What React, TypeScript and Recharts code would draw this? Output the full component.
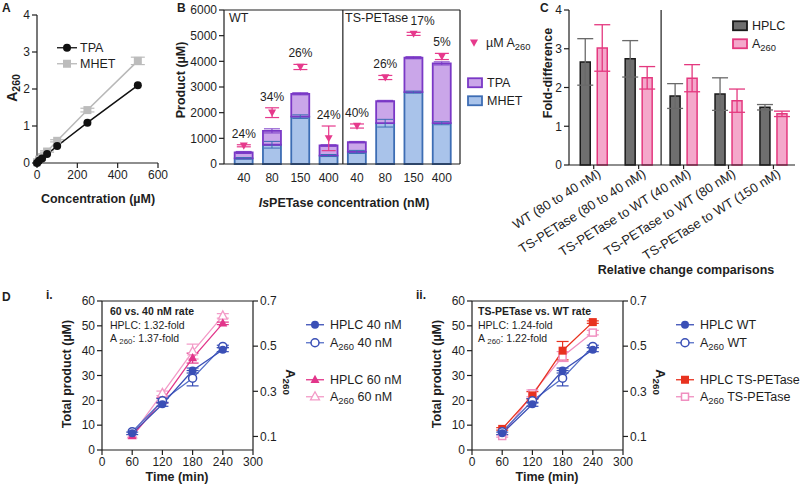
import React from "react";
import {
  ComposedChart,
  Line,
  Bar,
  XAxis,
  YAxis,
  ErrorBar,
  ReferenceLine,
  LabelList,
} from "recharts";

const FONT = "'Liberation Sans', Arial, Helvetica, sans-serif";
const INK = "#1e1e1e";
const PINK = "#e6398c";

// ---- A: standard curves
const concA = [0, 10, 25, 50, 100, 250, 500];
const tpaA = [0, 0.06, 0.12, 0.24, 0.46, 1.09, 2.1];
const mhetA = [0.02, 0.09, 0.16, 0.31, 0.6, 1.43, 2.76];
const mhetAErr = [0, 0, 0, 0.02, 0.03, 0.05, 0.1];

// ---- B: product by enzyme loading (WT x4, then TS-PETase x4)
const enzB = ["40", "80", "150", "400", "40", "80", "150", "400"];
const mhetB = [220, 750, 1845, 330, 470, 1590, 2800, 1590];
const totalB = [450, 1290, 2735, 720, 850, 2450, 4140, 3920];
const mhetBErr = [30, 130, 70, 40, 60, 150, 40, 60];
const totalBErr = [40, 80, 40, 30, 30, 30, 40, 60];
const a260B = [710, 2000, 3780, 1000, 1480, 3370, 5070, 4190];
const a260BErr = [40, 190, 100, 480, 80, 80, 60, 120];
const pctB = ["24%", "34%", "26%", "24%", "40%", "26%", "17%", "5%"];

// ---- C: fold differences
const compC = [
  "WT (80 to 40 nM)",
  "TS-PETase (80 to 40 nM)",
  "TS-PETase to WT (40 nM)",
  "TS-PETase to WT (80 nM)",
  "TS-PETase to WT (150 nM)",
];
const hplcC = [2.66, 2.74, 1.78, 1.83, 1.49];
const hplcCErr = [0.6, 0.47, 0.32, 0.42, 0.07];
const a260C = [3.02, 2.25, 2.24, 1.66, 1.32];
const a260CErr = [0.6, 0.29, 0.35, 0.3, 0.07];

// ---- D: time courses (HPLC on left axis, A260 on right axis)
const timeD = [60, 120, 180, 240];
const hplc40 = [6.7, 18.4, 32, 40.4];
const hplc40Err = [0.5, 0.8, 1, 0.8];
const a260_40 = [0.121, 0.258, 0.358, 0.499];
const a260_40Err = [0, 0.01, 0.034, 0.005];
const hplc60 = [5.6, 20, 37, 51];
const hplc60Err = [0, 1, 2, 0.5];
const a260_60 = [0.108, 0.291, 0.476, 0.634];
const a260_60Err = [0, 0.01, 0.033, 0.01];
const hplcTS = [8.5, 22, 40, 51.5];
const hplcTSErr = [0.5, 1.5, 3.7, 0.5];
const a260TS = [0.102, 0.291, 0.454, 0.56];
const a260TSErr = [0.005, 0.015, 0.022, 0.01];

const rowsA = concA.map((c, i) => ({ c, tpa: tpaA[i], mhet: mhetA[i], mhetErr: mhetAErr[i] }));
const posB = enzB.map((_, i) => i + 1);
const rowsB = enzB.map((enz, i) => ({
  pos: posB[i],
  enz,
  mhet: mhetB[i],
  tpa: totalB[i] - mhetB[i],
  mhetErr: mhetBErr[i],
  totalErr: totalBErr[i],
  a260: a260B[i],
  a260Err: a260BErr[i],
  labelAt: a260B[i] + a260BErr[i],
  pct: pctB[i],
}));
const posC = compC.map((_, i) => i + 1);
const rowsC = compC.map((cmp, i) => ({
  pos: posC[i],
  cmp,
  hplc: hplcC[i],
  hplcErr: hplcCErr[i],
  a260: a260C[i],
  a260Err: a260CErr[i],
}));
const rowsD = timeD.map((t, i) => ({
  t,
  h40: hplc40[i], h40e: hplc40Err[i],
  a40: a260_40[i], a40e: a260_40Err[i],
  h60: hplc60[i], h60e: hplc60Err[i],
  a60: a260_60[i], a60e: a260_60Err[i],
  hts: hplcTS[i], htse: hplcTSErr[i],
  ats: a260TS[i], atse: a260TSErr[i],
}));

const AX = { stroke: INK, strokeWidth: 1.2 };
const TK = { fontSize: 12, fill: INK };

type Kind = "circle" | "ring" | "square" | "box" | "tri" | "triOpen" | "triDown";

function Glyph({ kind, color, cx, cy, s = 4 }: { kind: Kind; color: string; cx: number; cy: number; s?: number }) {
  switch (kind) {
    case "circle":
      return <circle cx={cx} cy={cy} r={s} fill={color} />;
    case "ring":
      return <circle cx={cx} cy={cy} r={s} fill="#fff" stroke={color} strokeWidth={1.5} />;
    case "square":
      return <rect x={cx - s} y={cy - s} width={2 * s} height={2 * s} fill={color} />;
    case "box":
      return <rect x={cx - s + 0.5} y={cy - s + 0.5} width={2 * s - 1} height={2 * s - 1} fill="#fff" stroke={color} strokeWidth={1.5} />;
    case "tri":
      return <path d={`M${cx},${cy - s - 1} L${cx + s + 0.5},${cy + s * 0.8} L${cx - s - 0.5},${cy + s * 0.8} Z`} fill={color} />;
    case "triOpen":
      return <path d={`M${cx},${cy - s - 1} L${cx + s + 0.5},${cy + s * 0.8} L${cx - s - 0.5},${cy + s * 0.8} Z`} fill="#fff" stroke={color} strokeWidth={1.3} />;
    case "triDown":
      return <path d={`M${cx - s},${cy - s * 0.8} L${cx + s},${cy - s * 0.8} L${cx},${cy + s} Z`} fill={color} />;
  }
}

function marker(kind: Kind, color: string, s = 4) {
  return (p: any) => {
    if (p.cx == null || p.cy == null) return <g key={`m${p.index}`} />;
    return (
      <g key={`m${p.index}`}>
        <Glyph kind={kind} color={color} cx={p.cx} cy={p.cy} s={s} />
      </g>
    );
  };
}

function Txt({
  x, y, size = 12, bold, align = "center", rot = 0, children,
}: { x: number; y: number; size?: number; bold?: boolean; align?: "left" | "center"; rot?: number; children: React.ReactNode }) {
  const tx = align === "center" ? "-50%" : "0";
  return (
    <div
      style={{
        position: "absolute", left: x, top: y,
        transform: `translate(${tx},-50%) rotate(${rot}deg)`,
        fontSize: size, fontWeight: bold ? 700 : 400, whiteSpace: "nowrap",
        lineHeight: 1, color: INK,
      }}
    >
      {children}
    </div>
  );
}

const Sub = ({ children }: { children: React.ReactNode }) => (
  <span style={{ fontSize: "0.75em", position: "relative", top: "0.3em" }}>{children}</span>
);

function KeyRow({ x, y, w, gap, glyph, children, size = 12.5 }: { x: number; y: number; w: number; gap: number; glyph: React.ReactNode; children: React.ReactNode; size?: number }) {
  return (
    <div style={{ position: "absolute", left: x, top: y, transform: "translateY(-50%)", display: "flex", alignItems: "center", whiteSpace: "nowrap", fontSize: size, lineHeight: 1, color: INK }}>
      <svg width={w} height={12} style={{ marginRight: gap, overflow: "visible" }}>{glyph}</svg>
      <span>{children}</span>
    </div>
  );
}

const lineKey = (kind: Kind, color: string, line: string, w = 18) => (
  <>
    <line x1={0} x2={w} y1={6} y2={6} stroke={line} strokeWidth={1.3} />
    <Glyph kind={kind} color={color} cx={w / 2} cy={6} />
  </>
);

const boxKey = (fill: string, stroke: string) => (
  <rect x={1} y={1.5} width={14} height={9} fill={fill} stroke={stroke} strokeWidth={1.8} />
);

function SlantTick(p: any) {
  const { x, y, payload } = p;
  const ax = x + 8;
  const ay = y + 5;
  return (
    <text x={ax} y={ay} transform={`rotate(-32 ${ax} ${ay})`} textAnchor="end" fontSize={13} fill={INK}>
      {compC[payload.value - 1]}
    </text>
  );
}

// percent labels: nudge right when they would run into the panel title at the top
function PctLabel(p: any) {
  const { x, y, width, value } = p;
  const cx = x + (width || 0) / 2 + (y < 40 ? 9 : 0);
  return (
    <text x={cx} y={y - 7} textAnchor="middle" fontSize={12} fill={INK}>
      {value}
    </text>
  );
}

type SeriesCfg = { key: string; err: string; axis: "l" | "r"; color: string; line: string; kind: Kind };

function TimeCourse({ series }: { series: SeriesCfg[] }) {
  return (
    <ComposedChart width={400} height={199} data={rowsD} margin={{ top: 16, right: 117, left: 72, bottom: 0 }}>
      <XAxis dataKey="t" type="number" domain={[0, 300]} ticks={[0, 60, 120, 180, 240, 300]} height={34} axisLine={AX} tickLine={AX} tick={TK} tickSize={5} />
      <YAxis yAxisId="l" domain={[0, 60]} ticks={[0, 10, 20, 30, 40, 50, 60]} width={30} axisLine={AX} tickLine={AX} tick={TK} tickSize={5} />
      <YAxis yAxisId="r" orientation="right" domain={[0.04, 0.7]} allowDataOverflow ticks={[0.1, 0.3, 0.5, 0.7]} width={30} axisLine={AX} tickLine={AX} tick={TK} tickSize={5} tickFormatter={(v: number) => v.toFixed(1)} />
      <ReferenceLine yAxisId="l" y={60} stroke={INK} strokeWidth={1.2} />
      {series.map((s) => (
        <Line key={s.key} yAxisId={s.axis} dataKey={s.key} stroke={s.line} strokeWidth={1.3} dot={marker(s.kind, s.color)} activeDot={false} isAnimationActive={false}>
          <ErrorBar dataKey={s.err} width={6} stroke={s.color} strokeWidth={1.2} direction="y" />
        </Line>
      ))}
    </ComposedChart>
  );
}

const BLUE = "#3a4fb6";
const BLUE_L = "#5670c8";
const MAG = "#e2358a";
const MAG_L = "#f39ac7";
const RED = "#e8321f";
const PINK_L = "#f08fc0";

const seriesI: SeriesCfg[] = [
  { key: "a60", err: "a60e", axis: "r", color: MAG_L, line: MAG_L, kind: "triOpen" },
  { key: "h60", err: "h60e", axis: "l", color: MAG, line: MAG, kind: "tri" },
  { key: "a40", err: "a40e", axis: "r", color: BLUE, line: BLUE_L, kind: "ring" },
  { key: "h40", err: "h40e", axis: "l", color: BLUE, line: BLUE, kind: "circle" },
];
const seriesII: SeriesCfg[] = [
  { key: "ats", err: "atse", axis: "r", color: PINK_L, line: PINK_L, kind: "box" },
  { key: "hts", err: "htse", axis: "l", color: RED, line: RED, kind: "square" },
  { key: "a40", err: "a40e", axis: "r", color: BLUE, line: BLUE_L, kind: "ring" },
  { key: "h40", err: "h40e", axis: "l", color: BLUE, line: BLUE, kind: "circle" },
];

const noteStyle: React.CSSProperties = { position: "absolute", top: 305, fontSize: 10.5, lineHeight: "13.5px", color: INK, whiteSpace: "nowrap" };

export default function App() {
  return (
    <div style={{ position: "absolute", left: 0, top: 0, width: 800, height: 484, background: "#fff", fontFamily: FONT, overflow: "hidden", color: INK }}>
      {/* A */}
      <div style={{ position: "absolute", left: 0, top: 0 }}>
        <ComposedChart width={200} height={210} data={rowsA} margin={{ top: 15, right: 42, left: 7, bottom: 0 }}>
          <XAxis dataKey="c" type="number" domain={[0, 600]} ticks={[0, 200, 400, 600]} height={47} axisLine={AX} tickLine={AX} tick={TK} tickSize={5} />
          <YAxis domain={[0, 4]} ticks={[0, 1, 2, 3, 4]} width={30} axisLine={AX} tickLine={AX} tick={TK} tickSize={5} />
          <Line dataKey="mhet" stroke="#b8b8b8" strokeWidth={1.5} dot={marker("square", "#bcbcbc")} activeDot={false} isAnimationActive={false}>
            <ErrorBar dataKey="mhetErr" width={7} stroke="#bcbcbc" strokeWidth={1.2} direction="y" />
          </Line>
          <Line dataKey="tpa" stroke="#111" strokeWidth={1.5} dot={marker("circle", "#111")} activeDot={false} isAnimationActive={false} />
        </ComposedChart>
      </div>
      <KeyRow x={57} y={48} w={20} gap={3} glyph={lineKey("circle", "#111", "#111", 20)}>TPA</KeyRow>
      <KeyRow x={57} y={64} w={20} gap={3} glyph={lineKey("square", "#bcbcbc", "#b8b8b8", 20)}>MHET</KeyRow>
      <Txt x={12} y={88} rot={-90} bold size={14}>A<Sub>260</Sub></Txt>
      <Txt x={98} y={199} bold size={12.5}>Concentration (µM)</Txt>

      {/* B */}
      <div style={{ position: "absolute", left: 185, top: 0 }}>
        <ComposedChart width={340} height={210} data={rowsB} margin={{ top: 10, right: 65, left: 10, bottom: 0 }}>
          <XAxis dataKey="pos" type="number" domain={[0.3, 8.64]} allowDataOverflow ticks={posB} tickFormatter={(v: number) => enzB[v - 1]} height={46} axisLine={AX} tickLine={false} tick={TK} tickSize={5} tickMargin={4} interval={0} />
          <YAxis domain={[0, 6000]} ticks={[0, 1000, 2000, 3000, 4000, 5000, 6000]} width={29} axisLine={AX} tickLine={AX} tick={TK} tickSize={5} />
          <ReferenceLine x={4.5} stroke={INK} strokeWidth={1.2} />
          <ReferenceLine x={8.64} stroke={INK} strokeWidth={1.2} />
          <ReferenceLine y={6000} stroke={INK} strokeWidth={1.2} />
          <Bar dataKey="mhet" stackId="s" barSize={18} fill="#a9c3ea" stroke="#3d6db4" strokeWidth={1.8} isAnimationActive={false}>
            <ErrorBar dataKey="mhetErr" width={8} stroke="#3d6db4" strokeWidth={1} direction="y" />
          </Bar>
          <Bar dataKey="tpa" stackId="s" barSize={18} fill="#caa6e9" stroke="#7a38c6" strokeWidth={1.8} isAnimationActive={false}>
            <ErrorBar dataKey="totalErr" width={8} stroke="#7a38c6" strokeWidth={1} direction="y" />
          </Bar>
          <Line dataKey="a260" stroke="none" dot={marker("triDown", PINK)} activeDot={false} isAnimationActive={false}>
            <ErrorBar dataKey="a260Err" width={7} stroke={PINK} strokeWidth={1.2} direction="y" />
          </Line>
          <Line dataKey="labelAt" stroke="none" dot={false} activeDot={false} isAnimationActive={false}>
            <LabelList dataKey="pct" content={<PctLabel />} />
          </Line>
        </ComposedChart>
      </div>
      <Txt x={229} y={18} align="left" size={12.5}>WT</Txt>
      <Txt x={345} y={18} align="left" size={12.5}>TS-PETase</Txt>
      <KeyRow x={469} y={43} w={10} gap={7} glyph={<Glyph kind="triDown" color={PINK} cx={5} cy={6} />}>µM A<Sub>260</Sub></KeyRow>
      <KeyRow x={467} y={83} w={16} gap={4} glyph={boxKey("#caa6e9", "#7a38c6")}>TPA</KeyRow>
      <KeyRow x={467} y={101} w={16} gap={4} glyph={boxKey("#a9c3ea", "#3d6db4")}>MHET</KeyRow>
      <Txt x={181} y={80} rot={-90} bold size={12.5}>Product (µM)</Txt>
      <Txt x={344} y={203} bold size={12.5}><i>Is</i>PETase concentration (nM)</Txt>

      {/* C */}
      <div style={{ position: "absolute", left: 490, top: 0 }}>
        <ComposedChart width={310} height={290} data={rowsC} margin={{ top: 10, right: 5, left: 30, bottom: 0 }} barGap={7}>
          <XAxis dataKey="pos" type="number" domain={[0.45, 5.48]} allowDataOverflow ticks={posC} height={125} axisLine={AX} tickLine={AX} tickSize={4} tick={<SlantTick />} interval={0} />
          <YAxis domain={[0, 4]} ticks={[0, 1, 2, 3, 4]} width={49} axisLine={AX} tickLine={AX} tick={TK} tickSize={5} />
          <ReferenceLine x={2.5} stroke={INK} strokeWidth={1.2} />
          <Bar dataKey="hplc" barSize={10} fill="#6f6f6f" stroke="#1a1a1a" strokeWidth={1.5} isAnimationActive={false}>
            <ErrorBar dataKey="hplcErr" width={8} stroke="#6a6a6a" strokeWidth={1.3} direction="y" />
          </Bar>
          <Bar dataKey="a260" barSize={10} fill="#f4a8cb" stroke="#e4387f" strokeWidth={1.5} isAnimationActive={false}>
            <ErrorBar dataKey="a260Err" width={8} stroke="#e4387f" strokeWidth={1.3} direction="y" />
          </Bar>
        </ComposedChart>
      </div>
      <KeyRow x={732} y={26} w={16} gap={4} glyph={boxKey("#6f6f6f", "#1a1a1a")}>HPLC</KeyRow>
      <KeyRow x={732} y={44} w={16} gap={4} glyph={boxKey("#f4a8cb", "#e4387f")}>A<Sub>260</Sub></KeyRow>
      <Txt x={548} y={73} rot={-90} bold size={12.5}>Fold-difference</Txt>
      <Txt x={686} y={270} bold size={12.5}>Relative change comparisons</Txt>

      {/* panel letters */}
      <Txt x={2} y={8} align="left" bold size={12}>A</Txt>
      <Txt x={177} y={8} align="left" bold size={12}>B</Txt>
      <Txt x={540} y={8} align="left" bold size={12}>C</Txt>
      <Txt x={2} y={297} align="left" bold size={12}>D</Txt>
      <Txt x={46} y={295} align="left" bold size={12}>i.</Txt>
      <Txt x={416} y={295} align="left" bold size={12}>ii.</Txt>

      {/* D */}
      <div style={{ position: "absolute", left: 0, top: 285 }}>
        <TimeCourse series={seriesI} />
      </div>
      <div style={{ position: "absolute", left: 370, top: 285 }}>
        <TimeCourse series={seriesII} />
      </div>

      <div style={{ ...noteStyle, left: 110 }}>
        <div style={{ fontWeight: 700 }}>60 vs. 40 nM rate</div>
        <div>HPLC: 1.32-fold</div>
        <div>A <Sub>260</Sub>: 1.37-fold</div>
      </div>
      <div style={{ ...noteStyle, left: 478 }}>
        <div style={{ fontWeight: 700 }}>TS-PETase vs. WT rate</div>
        <div>HPLC: 1.24-fold</div>
        <div>A <Sub>260</Sub>: 1.22-fold</div>
      </div>

      <KeyRow x={306} y={325} w={18} gap={6} glyph={lineKey("circle", BLUE, BLUE)}>HPLC 40 nM</KeyRow>
      <KeyRow x={306} y={343} w={18} gap={6} glyph={lineKey("ring", BLUE, BLUE_L)}>A<Sub>260</Sub> 40 nM</KeyRow>
      <KeyRow x={306} y={380} w={18} gap={6} glyph={lineKey("tri", MAG, MAG)}>HPLC 60 nM</KeyRow>
      <KeyRow x={306} y={397} w={18} gap={6} glyph={lineKey("triOpen", MAG_L, MAG_L)}>A<Sub>260</Sub> 60 nM</KeyRow>

      <KeyRow x={676} y={325} w={18} gap={6} glyph={lineKey("circle", BLUE, BLUE)}>HPLC WT</KeyRow>
      <KeyRow x={676} y={343} w={18} gap={6} glyph={lineKey("ring", BLUE, BLUE_L)}>A<Sub>260</Sub> WT</KeyRow>
      <KeyRow x={676} y={380} w={18} gap={6} glyph={lineKey("square", RED, RED)}>HPLC TS-PETase</KeyRow>
      <KeyRow x={676} y={397} w={18} gap={6} glyph={lineKey("box", PINK_L, PINK_L)}>A<Sub>260</Sub> TS-PETase</KeyRow>

      <Txt x={67} y={374} rot={-90} bold size={12.5}>Total product (µM)</Txt>
      <Txt x={290} y={382} rot={90} bold size={13}>A<Sub>260</Sub></Txt>
      <Txt x={177} y={477} bold size={12.5}>Time (min)</Txt>
      <Txt x={437} y={374} rot={-90} bold size={12.5}>Total product (µM)</Txt>
      <Txt x={660} y={382} rot={90} bold size={13}>A<Sub>260</Sub></Txt>
      <Txt x={547} y={477} bold size={12.5}>Time (min)</Txt>
    </div>
  );
}
